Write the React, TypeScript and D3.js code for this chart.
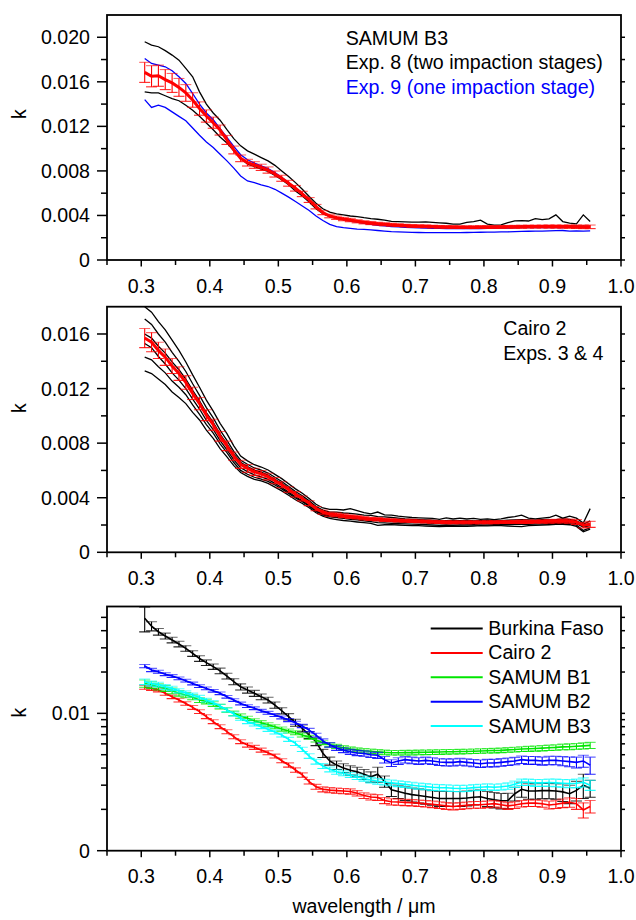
import React from 'react';
import * as d3 from 'd3';

// wavelength grid (µm)
const WL = [
  0.305, 0.315, 0.325, 0.335, 0.345, 0.355, 0.365, 0.375, 0.385, 0.395, 0.405,
  0.415, 0.425, 0.435, 0.445, 0.455, 0.465, 0.475, 0.485, 0.495, 0.505, 0.515,
  0.525, 0.535, 0.545, 0.555, 0.565, 0.575, 0.585, 0.595, 0.605, 0.615, 0.625,
  0.635, 0.645, 0.655, 0.665, 0.675, 0.685, 0.695, 0.705, 0.715, 0.725, 0.735,
  0.745, 0.755, 0.765, 0.775, 0.785, 0.795, 0.805, 0.815, 0.825, 0.835, 0.845,
  0.855, 0.865, 0.875, 0.885, 0.895, 0.905, 0.915, 0.925, 0.935, 0.945, 0.955,
];

// ---- Panel 1: SAMUM B3 (values in units of 1e-3) ----
const B3_MEAN = [
  16.85, 16.5, 16.55, 16.2, 15.9, 15.5, 15.0, 14.37, 13.6, 12.93, 12.33,
  11.67, 10.78, 9.88, 9.13, 8.74, 8.53, 8.32, 8.08, 7.72, 7.34, 6.89,
  6.44, 5.93, 5.39, 4.79, 4.25, 3.95, 3.8, 3.68, 3.59, 3.48, 3.39,
  3.32, 3.26, 3.21, 3.17, 3.13, 3.09, 3.06, 3.04, 3.02, 3.0, 2.98,
  2.97, 2.96, 2.95, 2.95, 2.95, 2.96, 2.96, 2.96, 2.97, 2.98, 2.98,
  2.99, 3.0, 3.0, 3.01, 3.01, 3.01, 3.0, 3.0, 2.99, 2.98, 2.98,
];
const B3_ERR = [
  0.9, 0.95, 0.95, 0.9, 0.85, 0.8, 0.75, 0.65, 0.6, 0.55, 0.5,
  0.45, 0.4, 0.35, 0.3, 0.3, 0.3, 0.28, 0.28, 0.27, 0.27, 0.26,
  0.25, 0.24, 0.22, 0.2, 0.18, 0.16, 0.15, 0.15, 0.15, 0.14, 0.14,
  0.14, 0.13, 0.13, 0.13, 0.12, 0.12, 0.12, 0.12, 0.12, 0.12, 0.12,
  0.12, 0.12, 0.12, 0.12, 0.12, 0.12, 0.12, 0.12, 0.12, 0.12, 0.13,
  0.13, 0.13, 0.13, 0.13, 0.14, 0.14, 0.14, 0.15, 0.15, 0.16, 0.16,
];
const EXP8_A = [
  19.6, 19.3, 19.15, 18.8, 18.4, 17.95, 17.2, 16.45, 15.1, 14.0, 13.2,
  12.55, 11.7, 10.9, 10.25, 9.8, 9.5, 9.2, 8.9, 8.5, 8.0, 7.5,
  6.95, 6.35, 5.7, 5.1, 4.6, 4.3, 4.15, 4.05, 3.95, 3.9, 3.8,
  3.72, 3.66, 3.58, 3.46, 3.44, 3.42, 3.41, 3.41, 3.42, 3.38, 3.34,
  3.3, 3.22, 3.23, 3.38, 3.45, 3.58, 3.22, 3.14, 3.16, 3.35, 3.52,
  3.53, 3.5, 3.72, 3.62, 3.7, 4.05, 3.45, 3.32, 3.25, 4.05, 3.45,
];
const EXP8_B = [
  15.1, 15.0, 15.0, 14.75, 14.5, 14.3, 13.9, 13.45, 12.9, 12.3, 11.7,
  11.05, 10.5, 9.8, 9.15, 8.6, 8.4, 8.15, 7.95, 7.6, 7.2, 6.75,
  6.2, 5.75, 5.2, 4.6, 4.15, 3.9, 3.75, 3.65, 3.55, 3.45, 3.38,
  3.3, 3.25, 3.2, 3.16, 3.12, 3.08, 3.06, 3.05, 3.03, 3.01, 3.0,
  2.98, 2.97, 2.96, 2.97, 2.98, 2.99, 2.98, 2.97, 2.98, 3.0, 3.02,
  3.03, 3.04, 3.05, 3.06, 3.06, 3.07, 3.06, 3.05, 3.04, 3.03, 3.02,
];
const EXP9_A = [
  18.1, 17.65, 17.5, 17.35, 17.0, 16.45, 15.85, 14.95, 14.0, 13.2, 12.6,
  11.8, 11.0, 10.2, 9.45, 9.0, 8.7, 8.45, 8.2, 7.85, 7.4, 6.95,
  6.45, 5.95, 5.4, 4.8, 4.25, 3.95, 3.75, 3.62, 3.5, 3.4, 3.3,
  3.2, 3.12, 3.06, 3.01, 2.97, 2.93, 2.9, 2.88, 2.86, 2.85, 2.84,
  2.83, 2.82, 2.82, 2.82, 2.83, 2.83, 2.84, 2.85, 2.86, 2.87, 2.88,
  2.9, 2.9, 2.92, 2.93, 2.9, 2.93, 2.92, 2.95, 2.9, 2.92, 2.9,
];
const EXP9_B = [
  14.4, 13.7, 13.9, 13.7, 13.3, 12.9, 12.5, 11.85, 11.2, 10.6, 10.1,
  9.5, 8.9, 8.25, 7.55, 7.1, 6.95, 6.75, 6.6, 6.35, 6.0, 5.65,
  5.25, 4.85, 4.45, 3.95, 3.55, 3.2, 3.0, 2.9, 2.84, 2.78, 2.75,
  2.7, 2.65, 2.6, 2.55, 2.52, 2.5, 2.48, 2.47, 2.46, 2.45, 2.45,
  2.45, 2.46, 2.46, 2.47, 2.48, 2.49, 2.5, 2.5, 2.52, 2.53, 2.55,
  2.57, 2.58, 2.6, 2.6, 2.62, 2.63, 2.65, 2.6, 2.62, 2.6, 2.62,
];

// ---- Panel 2: Cairo 2 (units of 1e-3) ----
const C2_MEAN = [
  15.7, 15.4, 14.8, 14.3, 13.65, 13.1, 12.45, 11.65, 10.9, 10.05, 9.35,
  8.5, 7.8, 7.05, 6.45, 6.15, 5.9, 5.75, 5.55, 5.25, 4.95, 4.6,
  4.25, 3.95, 3.6, 3.2, 2.95, 2.8, 2.75, 2.68, 2.62, 2.57, 2.5,
  2.45, 2.42, 2.38, 2.35, 2.33, 2.31, 2.3, 2.28, 2.26, 2.24, 2.22,
  2.21, 2.2, 2.2, 2.2, 2.2, 2.2, 2.21, 2.21, 2.22, 2.22, 2.23,
  2.24, 2.24, 2.25, 2.26, 2.27, 2.28, 2.29, 2.28, 2.22, 1.98, 2.05,
];
const C2_ERR = [
  0.7, 0.7, 0.6, 0.6, 0.55, 0.5, 0.5, 0.45, 0.45, 0.4, 0.4,
  0.35, 0.35, 0.3, 0.3, 0.28, 0.26, 0.25, 0.24, 0.23, 0.22, 0.2,
  0.2, 0.18, 0.18, 0.16, 0.15, 0.15, 0.14, 0.14, 0.13, 0.13, 0.12,
  0.12, 0.12, 0.12, 0.11, 0.11, 0.11, 0.11, 0.11, 0.11, 0.11, 0.11,
  0.11, 0.11, 0.11, 0.11, 0.11, 0.11, 0.11, 0.11, 0.11, 0.11, 0.12,
  0.12, 0.12, 0.12, 0.12, 0.13, 0.13, 0.14, 0.15, 0.18, 0.2, 0.22,
];
const C2_RUN_A = [
  18.0, 17.6, 16.9, 16.3, 15.55, 14.8, 13.95, 13.0, 12.1, 11.15, 10.35,
  9.45, 8.7, 7.8, 7.05, 6.7, 6.42, 6.25, 6.03, 5.71, 5.4, 5.02,
  4.65, 4.33, 3.95, 3.52, 3.25, 3.15, 3.15, 3.1, 3.2, 3.05, 2.9,
  2.82, 2.95, 2.75, 2.72, 2.65, 2.6, 2.55, 2.52, 2.5, 2.48, 2.42,
  2.52, 2.45, 2.5, 2.45, 2.48, 2.42, 2.45, 2.4, 2.45, 2.55, 2.62,
  2.72, 2.5, 2.45, 2.5, 2.55, 2.72, 2.5, 2.65, 2.5, 2.15, 3.2,
];
const C2_RUN_B = [
  17.1, 16.7, 16.0, 15.4, 14.65, 14.0, 13.25, 12.35, 11.5, 10.6, 9.85,
  8.95, 8.2, 7.4, 6.75, 6.45, 6.18, 6.02, 5.81, 5.5, 5.19, 4.82,
  4.45, 4.14, 3.77, 3.36, 3.1, 2.95, 2.95, 2.88, 2.85, 2.8, 2.72,
  2.7, 2.62, 2.6, 2.55, 2.5, 2.45, 2.42, 2.4, 2.38, 2.36, 2.3,
  2.32, 2.35, 2.32, 2.35, 2.3, 2.32, 2.35, 2.3, 2.32, 2.35, 2.38,
  2.4, 2.38, 2.36, 2.4, 2.38, 2.4, 2.45, 2.42, 2.3, 2.05, 2.3,
];
const C2_RUN_C = [
  16.0, 15.7, 15.1, 14.6, 13.95, 13.38, 12.7, 11.87, 11.1, 10.23, 9.52,
  8.66, 7.95, 7.2, 6.6, 6.29, 6.03, 5.87, 5.66, 5.35, 5.05, 4.69,
  4.33, 4.02, 3.66, 3.25, 3.0, 2.85, 2.75, 2.7, 2.65, 2.58, 2.5,
  2.47, 2.45, 2.42, 2.38, 2.35, 2.32, 2.3, 2.28, 2.26, 2.25, 2.24,
  2.2, 2.2, 2.18, 2.2, 2.2, 2.22, 2.22, 2.2, 2.22, 2.22, 2.24,
  2.26, 2.25, 2.26, 2.27, 2.28, 2.3, 2.3, 2.3, 2.2, 1.95, 2.1,
];
const C2_RUN_D = [
  15.3, 15.0, 14.35, 13.8, 13.15, 12.62, 12.0, 11.23, 10.5, 9.67, 9.0,
  8.18, 7.5, 6.77, 6.2, 5.91, 5.67, 5.53, 5.34, 5.05, 4.75, 4.41,
  4.07, 3.78, 3.44, 3.05, 2.8, 2.68, 2.65, 2.6, 2.52, 2.47, 2.4,
  2.36, 2.32, 2.28, 2.25, 2.22, 2.2, 2.2, 2.18, 2.15, 2.12, 2.1,
  2.1, 2.08, 2.1, 2.1, 2.1, 2.12, 2.12, 2.12, 2.12, 2.14, 2.14,
  2.15, 2.15, 2.16, 2.18, 2.2, 2.2, 2.22, 2.2, 2.1, 1.85, 1.95,
];
const C2_RUN_E = [
  14.3, 14.1, 13.6, 13.15, 12.55, 12.1, 11.55, 10.8, 10.1, 9.35, 8.73,
  7.95, 7.3, 6.58, 6.0, 5.72, 5.5, 5.37, 5.2, 4.93, 4.65, 4.32,
  3.99, 3.71, 3.38, 3.0, 2.75, 2.6, 2.55, 2.48, 2.42, 2.37, 2.3,
  2.25, 2.18, 2.15, 2.12, 2.1, 2.08, 2.06, 2.05, 2.02, 2.0, 1.98,
  2.0, 1.98, 2.0, 2.0, 2.02, 2.0, 2.0, 2.02, 2.03, 2.02, 2.04,
  2.05, 2.05, 2.06, 2.08, 2.1, 2.1, 2.12, 2.1, 2.0, 1.6, 1.8,
];
const C2_RUN_F = [
  13.3, 13.1, 12.7, 12.3, 11.75, 11.35, 10.9, 10.25, 9.7, 8.95, 8.35,
  7.6, 7.0, 6.35, 5.85, 5.57, 5.35, 5.23, 5.05, 4.78, 4.5, 4.18,
  3.85, 3.58, 3.26, 2.9, 2.65, 2.48, 2.4, 2.33, 2.28, 2.22, 2.17,
  2.12, 1.98, 2.02, 2.03, 2.0, 1.98, 1.96, 1.95, 1.92, 1.9, 1.88,
  1.9, 1.9, 1.92, 1.9, 1.92, 1.95, 1.93, 1.95, 1.95, 1.92, 1.9,
  1.88, 1.95, 1.98, 2.0, 2.02, 2.05, 2.05, 2.02, 1.9, 1.5, 1.7,
];

// ---- Panel 3: comparison (units of 1e-3) ----
const BF = [
  49.2, 43.2, 39.3, 36.6, 34.2, 32.0, 29.7, 27.3, 25.1, 23.4, 21.9,
  20.4, 18.7, 17.0, 15.6, 14.8, 14.0, 13.2, 12.5, 11.5, 10.45, 9.46,
  8.55, 7.78, 6.95, 6.22, 5.12, 4.5, 4.2, 4.0, 3.85, 3.75, 3.6,
  3.45, 3.6, 3.2, 2.78, 2.7, 2.62, 2.56, 2.52, 2.48, 2.44, 2.4,
  2.4, 2.4, 2.4, 2.42, 2.45, 2.47, 2.4, 2.35, 2.31, 2.32, 2.6,
  2.8, 2.72, 2.72, 2.74, 2.74, 2.72, 2.68, 2.6, 2.75, 3.0, 2.85,
];
const BF_ERR = [
  10, 3.3, 2.2, 1.8, 1.6, 1.5, 1.4, 1.3, 1.2, 1.1, 1.0,
  0.95, 0.9, 0.85, 0.8, 0.75, 0.7, 0.65, 0.6, 0.6, 0.55, 0.5,
  0.5, 0.45, 0.4, 0.4, 0.35, 0.3, 0.3, 0.3, 0.3, 0.3, 0.3,
  0.3, 0.45, 0.3, 0.3, 0.3, 0.3, 0.3, 0.3, 0.3, 0.3, 0.3,
  0.3, 0.3, 0.3, 0.3, 0.3, 0.3, 0.3, 0.3, 0.3, 0.3, 0.3,
  0.35, 0.35, 0.35, 0.35, 0.35, 0.35, 0.4, 0.4, 0.45, 0.6, 0.4,
];
const CAIRO = [
  15.5, 15.2, 14.8, 14.0, 13.2, 12.5, 11.8, 11.05, 10.3, 9.46, 8.7,
  8.0, 7.35, 6.76, 6.22, 5.88, 5.66, 5.4, 5.17, 4.89, 4.52, 4.21,
  3.87, 3.56, 3.18, 2.92, 2.8, 2.76, 2.74, 2.72, 2.7, 2.62, 2.52,
  2.46, 2.44, 2.32, 2.27, 2.26, 2.25, 2.24, 2.22, 2.2, 2.18, 2.15,
  2.12, 2.1, 2.12, 2.14, 2.16, 2.16, 2.18, 2.2, 2.16, 2.12, 2.15,
  2.2, 2.22, 2.22, 2.2, 2.15, 2.18, 2.22, 2.25, 2.2, 1.98, 2.1,
];
const CAIRO_ERR = [
  0.5, 0.5, 0.45, 0.45, 0.4, 0.4, 0.35, 0.35, 0.32, 0.3, 0.28,
  0.26, 0.24, 0.22, 0.2, 0.2, 0.19, 0.18, 0.17, 0.16, 0.15, 0.15,
  0.14, 0.13, 0.12, 0.12, 0.12, 0.12, 0.12, 0.12, 0.12, 0.12, 0.12,
  0.12, 0.12, 0.12, 0.12, 0.12, 0.12, 0.12, 0.12, 0.12, 0.12, 0.12,
  0.12, 0.12, 0.12, 0.12, 0.12, 0.12, 0.12, 0.12, 0.12, 0.12, 0.12,
  0.12, 0.12, 0.12, 0.13, 0.14, 0.15, 0.16, 0.18, 0.2, 0.25, 0.22,
];
const B1 = [
  16.5, 16.1, 15.6, 15.2, 14.6, 14.0, 13.6, 13.1, 12.5, 12.2, 11.7,
  11.2, 10.6, 10.0, 9.56, 9.2, 8.84, 8.55, 8.27, 8.0, 7.69, 7.44,
  7.23, 6.95, 6.7, 6.4, 6.12, 5.9, 5.75, 5.62, 5.5, 5.42, 5.35,
  5.3, 5.25, 5.2, 5.17, 5.17, 5.18, 5.18, 5.2, 5.21, 5.22, 5.23,
  5.25, 5.26, 5.27, 5.28, 5.3, 5.32, 5.34, 5.36, 5.38, 5.42, 5.45,
  5.5, 5.52, 5.55, 5.58, 5.62, 5.65, 5.7, 5.72, 5.76, 5.8, 5.85,
];
const B1_ERR = [
  1.0, 0.9, 0.8, 0.75, 0.7, 0.65, 0.6, 0.55, 0.5, 0.48, 0.45,
  0.42, 0.4, 0.38, 0.35, 0.33, 0.3, 0.3, 0.28, 0.27, 0.26, 0.25,
  0.24, 0.23, 0.22, 0.21, 0.2, 0.2, 0.2, 0.2, 0.2, 0.2, 0.2,
  0.2, 0.2, 0.2, 0.2, 0.2, 0.2, 0.2, 0.2, 0.2, 0.2, 0.2,
  0.2, 0.2, 0.2, 0.2, 0.2, 0.2, 0.2, 0.2, 0.2, 0.21, 0.22,
  0.22, 0.23, 0.24, 0.25, 0.25, 0.26, 0.27, 0.28, 0.28, 0.3, 0.3,
];
const B2 = [
  22.1, 20.7, 20.1, 19.3, 18.7, 18.0, 17.3, 16.5, 15.8, 15.2, 14.6,
  14.0, 13.2, 12.5, 11.8, 11.3, 10.9, 10.45, 10.1, 9.72, 9.35, 8.94,
  8.55, 8.09, 7.56, 6.95, 6.3, 5.9, 5.6, 5.4, 5.25, 5.15, 5.1,
  5.0, 4.95, 4.6, 4.35, 4.5, 4.6, 4.55, 4.5, 4.55, 4.5, 4.42,
  4.4, 4.4, 4.45, 4.4, 4.35, 4.3, 4.35, 4.35, 4.4, 4.45, 4.5,
  4.6, 4.55, 4.55, 4.5, 4.55, 4.55, 4.5, 4.45, 4.4, 4.5, 4.2,
];
const B2_ERR = [
  0.6, 0.55, 0.5, 0.48, 0.45, 0.42, 0.4, 0.38, 0.36, 0.34, 0.32,
  0.3, 0.29, 0.28, 0.27, 0.26, 0.25, 0.25, 0.24, 0.24, 0.23, 0.23,
  0.22, 0.22, 0.22, 0.22, 0.22, 0.22, 0.22, 0.22, 0.22, 0.23, 0.23,
  0.23, 0.25, 0.25, 0.25, 0.25, 0.25, 0.25, 0.25, 0.25, 0.25, 0.25,
  0.26, 0.26, 0.26, 0.26, 0.26, 0.27, 0.27, 0.27, 0.28, 0.28, 0.28,
  0.29, 0.3, 0.3, 0.3, 0.32, 0.32, 0.34, 0.36, 0.4, 0.45, 0.6,
];
const B3 = [
  17.0, 16.5, 16.2, 15.6, 15.2, 14.6, 14.1, 13.6, 13.1, 12.5, 12.0,
  11.3, 10.6, 9.9, 9.2, 8.7, 8.36, 8.0, 7.65, 7.31, 6.95, 6.47,
  6.05, 5.47, 4.89, 4.45, 4.14, 3.91, 3.76, 3.66, 3.56, 3.45, 3.36,
  3.27, 3.2, 3.16, 3.12, 3.08, 3.04, 3.0, 2.96, 2.93, 2.9, 2.88,
  2.87, 2.85, 2.84, 2.85, 2.88, 2.9, 2.92, 2.9, 2.92, 2.96, 3.05,
  3.15, 3.15, 3.12, 3.12, 3.14, 3.12, 3.1, 3.08, 3.1, 3.15, 3.0,
];
const B3_ERR_BOTTOM = [
  0.8, 0.7, 0.65, 0.6, 0.55, 0.5, 0.48, 0.45, 0.42, 0.4, 0.38,
  0.36, 0.34, 0.32, 0.3, 0.28, 0.27, 0.26, 0.25, 0.24, 0.23, 0.22,
  0.21, 0.2, 0.19, 0.18, 0.17, 0.16, 0.16, 0.15, 0.15, 0.15, 0.15,
  0.15, 0.15, 0.15, 0.15, 0.15, 0.15, 0.15, 0.15, 0.15, 0.15, 0.15,
  0.15, 0.15, 0.15, 0.15, 0.15, 0.15, 0.15, 0.15, 0.15, 0.16, 0.16,
  0.17, 0.17, 0.18, 0.18, 0.19, 0.2, 0.2, 0.21, 0.22, 0.24, 0.25,
];

// ---- ticks ----
const X_MAJOR = [0.3, 0.4, 0.5, 0.6, 0.7, 0.8, 0.9, 1.0];
const X_MINOR = [0.25, 0.35, 0.45, 0.55, 0.65, 0.75, 0.85, 0.95];
const P1_Y_MAJOR = [0, 4, 8, 12, 16, 20];
const P1_Y_MINOR = [2, 6, 10, 14, 18];
const P2_Y_MAJOR = [0, 4, 8, 12, 16];
const P2_Y_MINOR = [2, 6, 10, 14];
const P3_Y_MAJOR = [1, 10];
const P3_Y_MAJOR_LABELS = ['0', '0.01'];
const P3_Y_MINOR = [2, 3, 4, 5, 6, 7, 8, 9, 20, 30, 40, 50];

const LEGEND_NAMES = ['Burkina Faso', 'Cairo 2', 'SAMUM B1', 'SAMUM B2', 'SAMUM B3'];
const LEGEND_COLORS = ['#000000', '#ff0000', '#00e600', '#0000ff', '#00ffff'];

const FONT = '"Liberation Sans", Arial, Helvetica, sans-serif';
const FS = 19.6;
const X_LEFT = 107;
const X_RIGHT = 621;
const x = d3.scaleLinear().domain([0.25, 1.0]).range([X_LEFT, X_RIGHT]);

type YS = (v: number) => number;

function pathFor(vals: number[], y: YS) {
  const gen = d3
    .line<number>()
    .x((_, i) => x(WL[i]))
    .y((d) => y(d));
  return gen(vals) || '';
}

function ErrorBars({ vals, errs, y, color }: { vals: number[]; errs: number[]; y: YS; color: string }) {
  const cw = 5.5;
  return (
    <g stroke={color} strokeWidth={1.1} fill="none">
      {vals.map((v, i) => {
        const cx = x(WL[i]);
        const lo = Math.max(v - errs[i], 0.0001);
        const y1 = y(v + errs[i]);
        const y2 = y(lo);
        return (
          <g key={i}>
            <line x1={cx} x2={cx} y1={y1} y2={y2} />
            <line x1={cx - cw} x2={cx + cw} y1={y1} y2={y1} strokeOpacity={0.6} />
            <line x1={cx - cw} x2={cx + cw} y1={y2} y2={y2} strokeOpacity={0.85} />
          </g>
        );
      })}
    </g>
  );
}

function Axes({
  y,
  yTop,
  yBot,
  majors,
  minors,
  labels,
}: {
  y: YS;
  yTop: number;
  yBot: number;
  majors: number[];
  minors: number[];
  labels: string[];
}) {
  const all = [...majors, ...minors].filter((v) => y(v) > yTop + 1);
  return (
    <g>
      <rect x={X_LEFT} y={yTop} width={X_RIGHT - X_LEFT} height={yBot - yTop} fill="none" stroke="#000" strokeWidth={1.8} />
      {majors.map((v, i) => (
        <g key={'ma' + i}>
          <line x1={X_LEFT - 10} x2={X_LEFT} y1={y(v)} y2={y(v)} stroke="#000" strokeWidth={1.5} />
          <text x={90} y={y(v) + 7} textAnchor="end" fontFamily={FONT} fontSize={FS} fill="#000">
            {labels[i]}
          </text>
        </g>
      ))}
      {minors.map((v, i) => (
        <line key={'mi' + i} x1={X_LEFT - 6} x2={X_LEFT} y1={y(v)} y2={y(v)} stroke="#000" strokeWidth={1.5} />
      ))}
      {all.map((v, i) => (
        <line key={'r' + i} x1={X_RIGHT} x2={X_RIGHT + 4} y1={y(v)} y2={y(v)} stroke="#000" strokeWidth={1.5} />
      ))}
      {X_MAJOR.map((v, i) => (
        <g key={'xm' + i}>
          <line x1={x(v)} x2={x(v)} y1={yBot} y2={yBot + 6.5} stroke="#000" strokeWidth={1.5} />
          <text x={x(v)} y={yBot + 32.5} textAnchor="middle" fontFamily={FONT} fontSize={FS} fill="#000">
            {v.toFixed(1)}
          </text>
        </g>
      ))}
      {X_MINOR.map((v, i) => (
        <line key={'xn' + i} x1={x(v)} x2={x(v)} y1={yBot} y2={yBot + 5} stroke="#000" strokeWidth={1.5} />
      ))}
    </g>
  );
}

const fmtLin = (v: number) => (v === 0 ? '0' : (v / 1000).toFixed(3));

export default function App() {
  const p1Top = 15, p1Bot = 260;
  const y1 = d3.scaleLinear().domain([0, 22]).range([p1Bot, p1Top]);
  const p2Top = 306.7, p2Bot = 552.3;
  const y2 = d3.scaleLinear().domain([0, 18]).range([p2Bot, p2Top]);
  const p3Top = 606.5, p3Bot = 850.7;
  const y3 = d3.scaleLog().domain([1, 60]).range([p3Bot, p3Top]);

  const c2Runs = [C2_RUN_A, C2_RUN_B, C2_RUN_C, C2_RUN_D, C2_RUN_E, C2_RUN_F];
  const bottomSeries = [
    { v: BF, e: BF_ERR, c: LEGEND_COLORS[0] },
    { v: CAIRO, e: CAIRO_ERR, c: LEGEND_COLORS[1] },
    { v: B1, e: B1_ERR, c: LEGEND_COLORS[2] },
    { v: B2, e: B2_ERR, c: LEGEND_COLORS[3] },
    { v: B3, e: B3_ERR_BOTTOM, c: LEGEND_COLORS[4] },
  ];

  return (
    <svg
      width={636}
      height={920}
      style={{ position: 'absolute', left: 0, top: 0, background: '#fff' }}
      xmlns="http://www.w3.org/2000/svg"
    >
      <defs>
        <clipPath id="c1">
          <rect x={X_LEFT} y={p1Top} width={X_RIGHT - X_LEFT} height={p1Bot - p1Top} />
        </clipPath>
        <clipPath id="c2">
          <rect x={X_LEFT} y={p2Top} width={X_RIGHT - X_LEFT} height={p2Bot - p2Top} />
        </clipPath>
        <clipPath id="c3">
          <rect x={X_LEFT} y={p3Top} width={X_RIGHT - X_LEFT} height={p3Bot - p3Top} />
        </clipPath>
      </defs>
      <rect x={0} y={0} width={636} height={920} fill="#fff" />

      {/* ---------- Panel 1 ---------- */}
      <g clipPath="url(#c1)">
        <path d={pathFor(EXP8_A, y1)} fill="none" stroke="#000" strokeWidth={1.3} />
        <path d={pathFor(EXP8_B, y1)} fill="none" stroke="#000" strokeWidth={1.3} />
        <path d={pathFor(EXP9_A, y1)} fill="none" stroke="#0000ff" strokeWidth={1.3} />
        <path d={pathFor(EXP9_B, y1)} fill="none" stroke="#0000ff" strokeWidth={1.3} />
        <ErrorBars vals={B3_MEAN} errs={B3_ERR} y={y1} color="#ff0000" />
        <path d={pathFor(B3_MEAN, y1)} fill="none" stroke="#ff0000" strokeWidth={3} />
      </g>
      <Axes y={y1} yTop={p1Top} yBot={p1Bot} majors={P1_Y_MAJOR} minors={P1_Y_MINOR} labels={P1_Y_MAJOR.map(fmtLin)} />
      <text x={345.7} y={45} fontFamily={FONT} fontSize={FS} fill="#000">SAMUM B3</text>
      <text x={345.7} y={69} fontFamily={FONT} fontSize={FS} fill="#000">Exp. 8 (two impaction stages)</text>
      <text x={345.7} y={93.5} fontFamily={FONT} fontSize={FS} fill="#0000ff">Exp. 9 (one impaction stage)</text>
      <text transform={`translate(26,114) rotate(-90)`} textAnchor="middle" fontFamily={FONT} fontSize={FS} fill="#000">k</text>

      {/* ---------- Panel 2 ---------- */}
      <g clipPath="url(#c2)">
        {c2Runs.map((r, i) => (
          <path key={i} d={pathFor(r, y2)} fill="none" stroke="#000" strokeWidth={1.3} />
        ))}
        <ErrorBars vals={C2_MEAN} errs={C2_ERR} y={y2} color="#ff0000" />
        <path d={pathFor(C2_MEAN, y2)} fill="none" stroke="#ff0000" strokeWidth={3} />
      </g>
      <Axes y={y2} yTop={p2Top} yBot={p2Bot} majors={P2_Y_MAJOR} minors={P2_Y_MINOR} labels={P2_Y_MAJOR.map(fmtLin)} />
      <text x={503.3} y={335} fontFamily={FONT} fontSize={FS} fill="#000">Cairo 2</text>
      <text x={503.3} y={360} fontFamily={FONT} fontSize={FS} fill="#000">Exps. 3 &amp; 4</text>
      <text transform={`translate(26,408) rotate(-90)`} textAnchor="middle" fontFamily={FONT} fontSize={FS} fill="#000">k</text>

      {/* ---------- Panel 3 ---------- */}
      <g clipPath="url(#c3)">
        {bottomSeries.map((s, i) => (
          <g key={i}>
            <ErrorBars vals={s.v} errs={s.e} y={y3} color={s.c} />
            <path d={pathFor(s.v, y3)} fill="none" stroke={s.c} strokeWidth={1.6} />
          </g>
        ))}
      </g>
      <Axes y={y3} yTop={p3Top} yBot={p3Bot} majors={P3_Y_MAJOR} minors={P3_Y_MINOR} labels={P3_Y_MAJOR_LABELS} />
      <text transform={`translate(26,712.5) rotate(-90)`} textAnchor="middle" fontFamily={FONT} fontSize={FS} fill="#000">k</text>
      {LEGEND_NAMES.map((n, i) => {
        const by = 635 + i * 24.4;
        return (
          <g key={n}>
            <line x1={430.7} x2={482.7} y1={by - 6.5} y2={by - 6.5} stroke={LEGEND_COLORS[i]} strokeWidth={2} />
            <text x={488.3} y={by} fontFamily={FONT} fontSize={FS} fill="#000">{n}</text>
          </g>
        );
      })}
      <text x={(X_LEFT + X_RIGHT) / 2} y={913} textAnchor="middle" fontFamily={FONT} fontSize={FS} fill="#000">
        wavelength / μm
      </text>
    </svg>
  );
}
